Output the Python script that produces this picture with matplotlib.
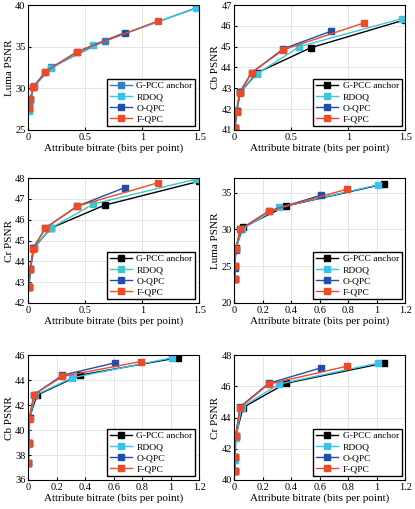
import matplotlib
matplotlib.use("Agg")
import matplotlib.pyplot as plt

plt.rcParams['font.family'] = ['Liberation Serif', 'DejaVu Serif']
plt.rcParams['font.size'] = 7.5

names = ["G-PCC anchor", "RDOQ", "O-QPC", "F-QPC"]

# Set 1 (top row + middle-left)
x1_anchor = [0.005, 0.02, 0.05, 0.2, 0.67, 1.5]
x1_rdoq = [0.005, 0.02, 0.05, 0.2, 0.57, 1.47]
x1_oqpc = [0.004, 0.018, 0.045, 0.15, 0.43, 0.85]
x1_fqpc = [0.004, 0.018, 0.045, 0.15, 0.43, 1.14]
luma1 = [[27.5, 28.6, 30.3, 32.5, 35.7, 39.8], [27.3, 28.5, 30.2, 32.4, 35.2, 39.6],
         [27.6, 28.7, 30.1, 32.0, 34.4, 36.7], [27.6, 28.7, 30.1, 32.0, 34.4, 38.1]]
cb1 = [[41.1, 41.9, 42.8, 43.75, 44.95, 46.3], [41.1, 41.9, 42.8, 43.7, 45.0, 46.35],
       [41.1, 41.9, 42.8, 43.75, 44.9, 45.75], [41.1, 41.85, 42.75, 43.75, 44.85, 46.15]]
cr1 = [[42.75, 43.65, 44.65, 45.6, 46.7, 47.85], [42.75, 43.65, 44.65, 45.6, 46.75, 47.95],
       [42.75, 43.65, 44.65, 45.6, 46.65, 47.55], [42.75, 43.65, 44.6, 45.6, 46.65, 47.78]]

# Set 2
x2_anchor = [0.001, 0.003, 0.01, 0.06, 0.36, 1.05]
x2_rdoq = [0.001, 0.003, 0.01, 0.05, 0.31, 1.01]
x2_oqpc = [0.001, 0.002, 0.008, 0.04, 0.24, 0.61]
x2_fqpc = [0.001, 0.002, 0.008, 0.04, 0.24, 0.79]
luma2 = [[23.2, 25.0, 27.5, 30.3, 33.2, 36.2], [23.2, 24.9, 27.3, 30.0, 33.0, 36.1],
         [23.2, 24.8, 27.2, 30.0, 32.5, 34.7], [23.2, 25.0, 27.3, 30.0, 32.5, 35.5]]
cb2 = [[37.4, 39.0, 41.0, 42.8, 44.4, 45.8], [37.4, 38.9, 40.9, 42.8, 44.2, 45.8],
       [37.4, 39.0, 41.0, 42.85, 44.4, 45.4], [37.4, 39.0, 40.9, 42.85, 44.3, 45.5]]
cr2 = [[40.6, 41.5, 42.85, 44.65, 46.2, 47.5], [40.6, 41.3, 42.7, 44.65, 46.15, 47.5],
       [40.6, 41.5, 42.85, 44.7, 46.2, 47.2], [40.6, 41.5, 42.85, 44.65, 46.15, 47.3]]

panels = [
    ("Luma PSNR", [x1_anchor, x1_rdoq, x1_oqpc, x1_fqpc], luma1, (25, 40), [25, 30, 35, 40], (0, 1.5), [0, 0.5, 1, 1.5],
     ["#2f7fc1", "#33c4f0", "#1f4faa", "#ee4a25"]),
    ("Cb PSNR", [x1_anchor, x1_rdoq, x1_oqpc, x1_fqpc], cb1, (41, 47), list(range(41, 48)), (0, 1.5), [0, 0.5, 1, 1.5],
     ["#000000", "#3ec6d6", "#1f4faa", "#ee4a25"]),
    ("Cr PSNR", [x1_anchor, x1_rdoq, x1_oqpc, x1_fqpc], cr1, (42, 48), list(range(42, 49)), (0, 1.5), [0, 0.5, 1, 1.5],
     ["#000000", "#3ec6c6", "#1f4faa", "#ee4a25"]),
    ("Luma PSNR", [x2_anchor, x2_rdoq, x2_oqpc, x2_fqpc], luma2, (20, 37), [20, 25, 30, 35], (0, 1.2), [0, 0.2, 0.4, 0.6, 0.8, 1, 1.2],
     ["#000000", "#33c4f0", "#1f4faa", "#ee4a25"]),
    ("Cb PSNR", [x2_anchor, x2_rdoq, x2_oqpc, x2_fqpc], cb2, (36, 46), [36, 38, 40, 42, 44, 46], (0, 1.2), [0, 0.2, 0.4, 0.6, 0.8, 1, 1.2],
     ["#000000", "#33c4f0", "#1f4faa", "#ee4a25"]),
    ("Cr PSNR", [x2_anchor, x2_rdoq, x2_oqpc, x2_fqpc], cr2, (40, 48), [40, 42, 44, 46, 48], (0, 1.2), [0, 0.2, 0.4, 0.6, 0.8, 1, 1.2],
     ["#000000", "#33c4f0", "#1f4faa", "#ee4a25"]),
]

fig = plt.figure(figsize=(4.15, 5.09), dpi=100)
lefts = [0.068, 0.565]
bottoms = [0.745, 0.405, 0.057]
for i, (ylab, xs, ys, ylim, yt, xlim, xt, cols) in enumerate(panels):
    ax = fig.add_axes([lefts[i % 2], bottoms[i // 2], 0.412, 0.245])
    for k in range(4):
        ax.plot(xs[k], ys[k], '-s', color=cols[k], markersize=4, linewidth=1.0, label=names[k])
    ax.set_xlim(*xlim); ax.set_ylim(*ylim)
    ax.set_xticks(xt); ax.set_yticks(yt)
    ax.set_xticklabels([("%g" % v) for v in xt])
    ax.grid(True, color="#e0e0e0", linewidth=0.6)
    ax.set_xlabel("Attribute bitrate (bits per point)", labelpad=1, fontsize=8)
    ax.set_ylabel(ylab, labelpad=1, fontsize=8)
    ax.tick_params(direction='in', length=2, pad=2)
    ax.legend(loc='lower right', fontsize=6.8, fancybox=False, edgecolor='black',
              handlelength=2.3, handletextpad=0.5, borderpad=0.3, labelspacing=0.25,
              framealpha=1, borderaxespad=0.4)
fig.savefig("out.png", dpi=100)
